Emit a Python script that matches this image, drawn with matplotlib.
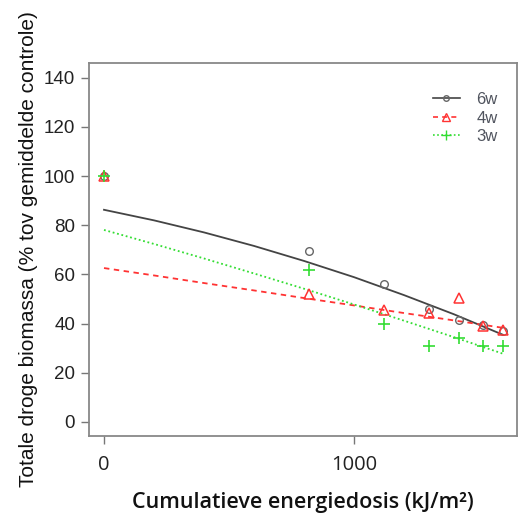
import matplotlib
matplotlib.use("Agg")
import matplotlib.pyplot as plt
from matplotlib.lines import Line2D

# Observed points
dose = [0, 820, 1120, 1300, 1420, 1515, 1595]
obs_6w = [100, 69.5, 56, 46, 41.5, 39.5, 37]
obs_4w = [100, 52, 45.5, 44.5, 50.5, 39, 37.5]
obs_3w = [100, 62, 40, 31, 34, 31, 31]

# Fitted curves
fit_x = [0, 200, 400, 600, 800, 1000, 1200, 1400, 1595]
fit_6w = [86.3, 82.0, 77.1, 71.6, 65.5, 58.9, 51.6, 43.8, 35.5]
fit_4w = [62.6, 59.6, 56.5, 53.5, 50.4, 47.4, 44.3, 41.3, 38.3]
fit_3w = [78.1, 72.4, 66.5, 60.4, 54.2, 47.8, 41.2, 34.5, 27.8]

labels = ["6w", "4w", "3w"]
yticks = [0, 20, 40, 60, 80, 100, 120, 140]
xticks = [0, 1000]

c6, c4, c3 = "#444444", "#ff3333", "#33dd33"

fig = plt.figure(figsize=(5.18, 5.22), dpi=100)
ax = fig.add_axes([0.1718, 0.1648, 0.8262, 0.7145])

ax.plot(fit_x, fit_6w, color=c6, lw=1.3, ls="-")
ax.plot(fit_x, fit_4w, color=c4, lw=1.3, ls=(0, (3, 2.5)))
ax.plot(fit_x, fit_3w, color=c3, lw=1.3, ls=(0, (1, 1.5)))

ax.plot(dose, obs_6w, ls="none", marker="o", ms=5.5, mfc="none", mec="#666666", mew=1.0)
ax.plot(dose, obs_4w, ls="none", marker="^", ms=7.5, mfc="none", mec=c4, mew=1.1)
ax.plot(dose, obs_3w, ls="none", marker="+", ms=9, mec=c3, mew=1.2)

ax.set_xlim(-60, 1652)
ax.set_ylim(-5.7, 146)
ax.set_yticks(yticks)
ax.set_xticks(xticks)
ax.set_yticklabels([str(v) for v in yticks], fontsize=13.5, color="#222222", family="Liberation Sans")
ax.set_xticklabels([str(v) for v in xticks], fontsize=14.5, color="#222222", family="Open Sans")
ax.tick_params(axis="y", direction="out", length=6, width=1, color="#777777", pad=4)
ax.tick_params(axis="x", direction="out", length=6, width=1, color="#777777", pad=8)
for s in ax.spines.values():
    s.set_color("#888888")
    s.set_linewidth(1.3)

ax.set_ylabel("Totale droge biomassa (% tov gemiddelde controle)", fontsize=15,
              family="Liberation Sans", color="#111111", labelpad=4)
ax.set_xlabel("Cumulatieve energiedosis (kJ/m²)", fontsize=15.5, family="Open Sans",
              fontweight="semibold", color="#111111", labelpad=12)

handles = [
    Line2D([], [], color=c6, lw=1.2, ls="-", marker="o", ms=4, mfc="none", mec="#666666"),
    Line2D([], [], color=c4, lw=1.2, ls=(0, (3, 2.5)), marker="^", ms=6, mfc="none", mec=c4),
    Line2D([], [], color=c3, lw=1.2, ls=(0, (1, 1.5)), marker="+", ms=7, mec=c3),
]
leg = ax.legend(handles, labels, loc="upper right", bbox_to_anchor=(0.99, 0.962), frameon=False,
                handlelength=1.6, labelspacing=0.2, handletextpad=1.0,
                prop={"family": "Liberation Sans", "size": 12})
for t in leg.get_texts():
    t.set_color("#50545e")

fig.savefig("out.png", dpi=100)
